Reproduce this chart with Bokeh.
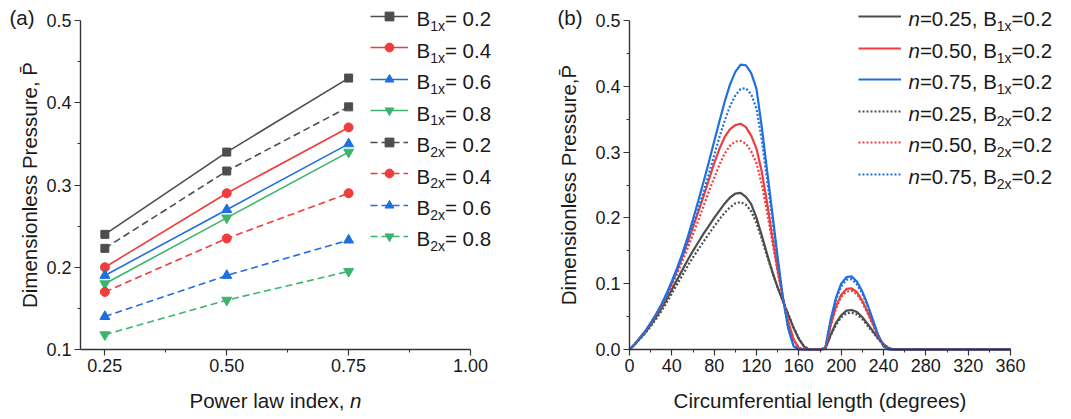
from bokeh.plotting import figure
from bokeh.layouts import row
from bokeh.models import FixedTicker, PrintfTickFormatter, Label, Legend, LegendItem, Range1d
from bokeh.embed import file_html
from bokeh.resources import INLINE

# ---------------- data: panel (a) ----------------
n_index = [0.25, 0.50, 0.75]
b1x_02 = [0.240, 0.340, 0.430]
b1x_04 = [0.200, 0.290, 0.370]
b1x_06 = [0.190, 0.270, 0.350]
b1x_08 = [0.180, 0.260, 0.340]
b2x_02 = [0.223, 0.317, 0.395]
b2x_04 = [0.170, 0.235, 0.290]
b2x_06 = [0.140, 0.190, 0.233]
b2x_08 = [0.118, 0.160, 0.195]
legend_a = ["0.2", "0.4", "0.6", "0.8", "0.2", "0.4", "0.6", "0.8"]
xticks_a = [0.25, 0.50, 0.75, 1.00]
yticks_a = [0.1, 0.2, 0.3, 0.4, 0.5]

# ---------------- data: panel (b) ----------------
deg = [0, 5, 10, 15, 20, 25, 30, 35, 40, 45, 50, 55, 60, 65, 70, 75, 80, 85, 90, 95,
       100, 105, 110, 115, 120, 125, 130, 135, 140, 145, 150, 155, 160, 165, 170, 175,
       180, 185, 190, 195, 200, 205, 210, 215, 220, 225, 230, 235, 240, 245, 250, 360]
p_n025_b1 = [0, .008, .017, .026, .037, .049, .062, .076, .091, .106, .121, .136, .150, .163,
             .176, .188, .200, .211, .222, .231, .237, .238, .232, .221, .200, .173, .145, .118,
             .094, .073, .053, .033, .016, .004, 0, 0, 0, .001, .022, .040, .052, .059, .060,
             .057, .049, .039, .028, .017, .008, .002, 0, 0]
p_n050_b1 = [0, .008, .018, .028, .040, .053, .067, .083, .101, .120, .141, .163, .186, .209,
             .233, .258, .283, .305, .323, .335, .341, .343, .338, .325, .305, .270, .223, .171,
             .121, .078, .042, .015, .002, 0, 0, 0, 0, .002, .037, .065, .083, .092, .093, .087,
             .074, .057, .039, .021, .007, .001, 0, 0]
p_n075_b1 = [0, .008, .018, .028, .040, .053, .068, .085, .104, .124, .146, .171, .198, .226,
             .255, .285, .316, .347, .377, .403, .422, .433, .432, .420, .396, .338, .272, .207,
             .140, .078, .032, .005, 0, 0, 0, 0, 0, .002, .045, .078, .100, .110, .111, .103,
             .088, .068, .045, .022, .005, 0, 0, 0]
p_n025_b2 = [0, .008, .016, .025, .035, .046, .058, .071, .085, .099, .113, .127, .140, .152,
             .164, .176, .187, .198, .208, .216, .222, .224, .220, .210, .192, .168, .142, .117,
             .094, .074, .054, .034, .017, .005, 0, 0, 0, .001, .021, .037, .049, .055, .056,
             .053, .046, .036, .026, .016, .007, .002, 0, 0]
p_n050_b2 = [0, .008, .018, .028, .039, .052, .065, .080, .097, .115, .134, .154, .175, .196,
             .218, .240, .261, .281, .298, .310, .316, .317, .313, .301, .283, .251, .209, .163,
             .118, .078, .043, .016, .003, 0, 0, 0, 0, .002, .035, .062, .080, .088, .089, .084,
             .071, .055, .037, .020, .007, .001, 0, 0]
p_n075_b2 = [0, .008, .018, .028, .040, .052, .067, .083, .101, .120, .141, .164, .189, .214,
             .240, .267, .295, .323, .348, .370, .386, .396, .397, .388, .366, .318, .258, .198,
             .136, .078, .033, .006, 0, 0, 0, 0, 0, .002, .043, .075, .096, .106, .107, .099,
             .085, .066, .043, .021, .005, 0, 0, 0]
legend_b_n = ["0.25", "0.50", "0.75", "0.25", "0.50", "0.75"]
xticks_b = [0, 40, 80, 120, 160, 200, 240, 280, 320, 360]
yticks_b = [0.0, 0.1, 0.2, 0.3, 0.4, 0.5]

FONT = "Liberation Sans"
GRAY, RED, BLUE, GREEN = "#4d4d4d", "#f03c3c", "#1f6fdf", "#3cb46e"
TXT = "#1a1a1a"
AX = "#333333"

W = dict(a=.556, b=.556, c=.5, d=.556, e=.556, f=.278, g=.556, h=.556, i=.222, j=.222, k=.5,
         l=.222, m=.833, n=.556, o=.556, p=.556, q=.556, r=.333, s=.5, t=.278, u=.556, v=.5,
         w=.722, x=.5, y=.5, z=.5, P=.667, B=.667, D=.722, C=.722)
W.update({" ": .278, ",": .278, ".": .278, "=": .584, "(": .333, ")": .333})
for d in "0123456789":
    W[d] = .556

TOP, BOTTOM = 0, 417          # page y of the figures' top / bottom edges
FIG_H = BOTTOM - TOP
MID = 0.3465                  # middle of the em box above the baseline, in em


def tw(s, size):
    return sum(W.get(c, .556) for c in s) * size


def rich(p, fx0, x, yb, segs):
    """segs: (text, size, style, dy) placed left to right; x, yb (baseline) are page coords"""
    cx = x
    for t, sz, style, dy in segs:
        yc = yb + dy - MID * sz
        p.add_layout(Label(x=cx - fx0, y=BOTTOM - yc, x_units="screen", y_units="screen",
                           text=t, text_font=FONT, text_font_size=f"{sz}px",
                           text_font_style=style, text_baseline="middle",
                           text_align="left", text_color=TXT))
        cx += tw(t, sz)


def vlabel(p, fx0, xc, yc, text):
    p.add_layout(Label(x=xc - fx0, y=BOTTOM - yc, x_units="screen", y_units="screen",
                       text=text, angle=90, angle_units="deg", text_font=FONT,
                       text_font_size="20.5px", text_align="center", text_baseline="middle",
                       text_color=TXT))


def sample_legend(p, fx0, x0, x1, cy, renderers):
    h = 22
    cy = cy - 2
    leg = Legend(items=[LegendItem(label=" ", renderers=renderers)],
                 location=(x0 - fx0, BOTTOM - (cy + h / 2)),
                 glyph_width=int(x1 - x0), glyph_height=h, label_width=0, label_height=0,
                 label_standoff=0, label_text_font_size="1px", padding=0, margin=0, spacing=0,
                 border_line_alpha=0, background_fill_alpha=0)
    p.add_layout(leg)


def make_fig(fig_left, fig_right, ax_left, ax_right, ax_top, ax_bottom, x0, x1, y0, y1):
    """Frame covers the whole figure; ranges chosen so that data x0..x1 / y0..y1 land on the
    page pixels ax_left..ax_right / ax_bottom..ax_top. Axes are pinned with fixed_location."""
    kx = (x1 - x0) / (ax_right - ax_left)
    ky = (y1 - y0) / (ax_bottom - ax_top)
    xr = Range1d(x0 - (ax_left - fig_left) * kx, x1 + (fig_right - ax_right) * kx)
    yr = Range1d(y0 - (BOTTOM - ax_bottom) * ky, y1 + (ax_top - TOP) * ky)
    p = figure(frame_width=fig_right - fig_left, frame_height=FIG_H, min_border=0,
               output_backend="svg", toolbar_location=None, x_range=xr, y_range=yr)
    p.outline_line_color = None
    p.xgrid.visible = False
    p.ygrid.visible = False
    p.xaxis.fixed_location = y0
    p.yaxis.fixed_location = x0
    p.xaxis.bounds = (x0, x1)
    p.yaxis.bounds = (y0, y1)
    for ax in (p.xaxis[0], p.yaxis[0]):
        ax.axis_line_color = AX
        ax.axis_line_width = 1.4
        ax.major_tick_line_color = AX
        ax.minor_tick_line_color = AX
        ax.major_tick_line_width = 1.2
        ax.minor_tick_line_width = 1.0
        ax.major_tick_out = 6
        ax.major_tick_in = 0
        ax.minor_tick_out = 3
        ax.minor_tick_in = 0
        ax.major_label_text_font = FONT
        ax.major_label_text_font_size = "18px"
        ax.major_label_text_color = TXT
        ax.major_label_standoff = 3
    return p


# ---------------- panel (a) ----------------
FA = 0
pa = make_fig(FA, 530, 80, 470, 20, 349, 0.2, 1.0, 0.1, 0.5)
pa.xaxis.ticker = FixedTicker(ticks=xticks_a, minor_ticks=[0.375, 0.625, 0.875])
pa.yaxis.ticker = FixedTicker(ticks=yticks_a, minor_ticks=[0.15, 0.25, 0.35, 0.45])
pa.xaxis.formatter = PrintfTickFormatter(format="%.2f")
pa.yaxis.formatter = PrintfTickFormatter(format="%.1f")

series_a = [b1x_02, b1x_04, b1x_06, b1x_08, b2x_02, b2x_04, b2x_06, b2x_08]
colors_a = [GRAY, RED, BLUE, GREEN] * 2
markers_a = ["square", "circle", "triangle", "inverted_triangle"] * 2
msize = {"square": 8, "circle": 9, "triangle": 10, "inverted_triangle": 10}
for i, (ys, c, m) in enumerate(zip(series_a, colors_a, markers_a)):
    dash = "solid" if i < 4 else "7 4"
    lr = pa.line(n_index, ys, line_color=c, line_width=1.6, line_dash=dash)
    sr = pa.scatter(n_index, ys, marker=m, size=msize[m], fill_color=c, line_color=c)
    cy = 18 + i * 31.43
    sample_legend(pa, FA, 370, 408, cy, [lr, sr])
    sub = "1x" if i < 4 else "2x"
    rich(pa, FA, 416, cy + 7.5,
         [("B", 20.5, "normal", 0), (sub, 14, "normal", 5), ("= " + legend_a[i], 20.5, "normal", 0)])

rich(pa, FA, 9, 24.5, [("(a)", 20.5, "normal", 0)])
title_a = [("Power law index, ", 20.5, "normal", 0), ("n", 20.5, "italic", 0)]
wtitle = sum(tw(t, s) for t, s, _, _ in title_a)
rich(pa, FA, 275 - wtitle / 2, 407, title_a)
vlabel(pa, FA, 29, 184.5, "Dimensionless Pressure, P\u0304")

# ---------------- panel (b) ----------------
FB = 530
pb = make_fig(FB, 1069, 629, 1010, 20, 349, 0, 360, 0.0, 0.5)
pb.xaxis.ticker = FixedTicker(ticks=xticks_b, minor_ticks=[20, 60, 100, 140, 180, 220, 260, 300, 340])
pb.yaxis.ticker = FixedTicker(ticks=yticks_b, minor_ticks=[0.05, 0.15, 0.25, 0.35, 0.45])
pb.xaxis.formatter = PrintfTickFormatter(format="%d")
pb.yaxis.formatter = PrintfTickFormatter(format="%.1f")

series_b = [p_n025_b1, p_n050_b1, p_n075_b1, p_n025_b2, p_n050_b2, p_n075_b2]
colors_b = [GRAY, RED, BLUE] * 2
renders_b = []
for i, (ys, c) in enumerate(zip(series_b, colors_b)):
    dash = "solid" if i < 3 else "2 2"
    renders_b.append(pb.line(deg, ys, line_color=c, line_width=2.2, line_dash=dash))
for i, r in enumerate(renders_b):
    cy = 18 + i * 31.5
    sample_legend(pb, FB, 858, 901, cy, [r])
    sub = "1x" if i < 3 else "2x"
    rich(pb, FB, 908, cy + 7.5,
         [("n", 20.5, "italic", 0), ("=" + legend_b_n[i] + ", B", 20.5, "normal", 0),
          (sub, 14, "normal", 5), ("=0.2", 20.5, "normal", 0)])

rich(pb, FB, 557, 24.5, [("(b)", 20.5, "normal", 0)])
title_b = "Circumferential length (degrees)"
rich(pb, FB, 819.5 - tw(title_b, 20.5) / 2, 407, [(title_b, 20.5, "normal", 0)])
vlabel(pb, FB, 568, 184.5, "Dimensionless Pressure,P\u0304")

layout = row(pa, pb)
open("out.html", "w").write(file_html(layout, INLINE))
